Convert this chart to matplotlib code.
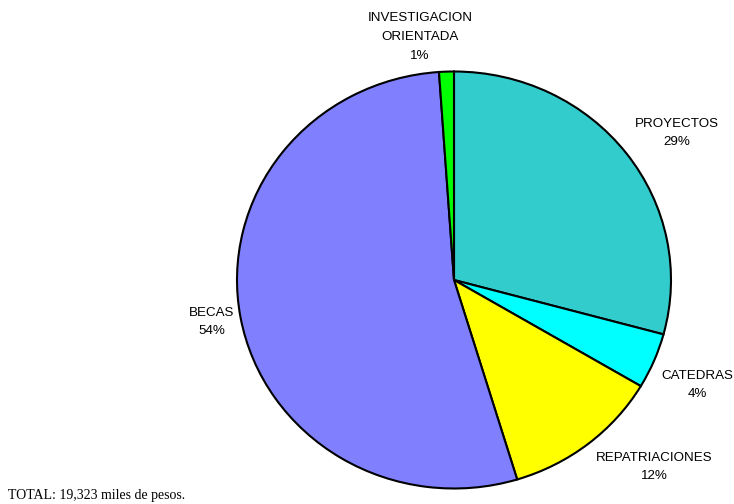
import matplotlib.pyplot as plt

categorias = ["PROYECTOS", "CATEDRAS", "REPATRIACIONES", "BECAS", "INVESTIGACION\nORIENTADA"]
montos = [5642, 831, 2280, 10357, 213]   # miles de pesos
colores = ["#33CCCC", "#00FFFF", "#FFFF00", "#8080FF", "#00FF00"]
total_texto = "TOTAL: 19,323 miles de pesos."

W, H = 734, 504
fig = plt.figure(figsize=(W / 100, H / 100), dpi=100)
ax = fig.add_axes([0, 0, 1, 1])

# pastel ligeramente achatado en vertical
rx, ry = 217, 208.5
sy = rx / ry
cx, cy = 454, H - 280
ax.pie(montos, colors=colores, startangle=90, counterclock=False,
       radius=rx, center=(cx, cy * sy),
       wedgeprops=dict(edgecolor="black", linewidth=1.5))
ax.set_xlim(0, W)
ax.set_ylim(0, H * sy)
ax.set_aspect("auto")
ax.axis("off")

# posiciones de las etiquetas (pixeles)
pos = [(677, 133), (697, 385), (654, 467), (212, 322), (420, 37)]
total = sum(montos)
for cat, m, (x, y) in zip(categorias, montos, pos):
    txt = "%s\n%d%%" % (cat, round(100 * m / total))
    fig.text(x / W, 1 - y / H, txt, ha="center", va="center",
             fontsize=9.6, family="Liberation Sans", linespacing=1.75)

fig.text(8 / W, 1 - 495 / H, total_texto, ha="left", va="center",
         fontsize=10, family="Liberation Serif")

fig.savefig("out.png", dpi=100)
